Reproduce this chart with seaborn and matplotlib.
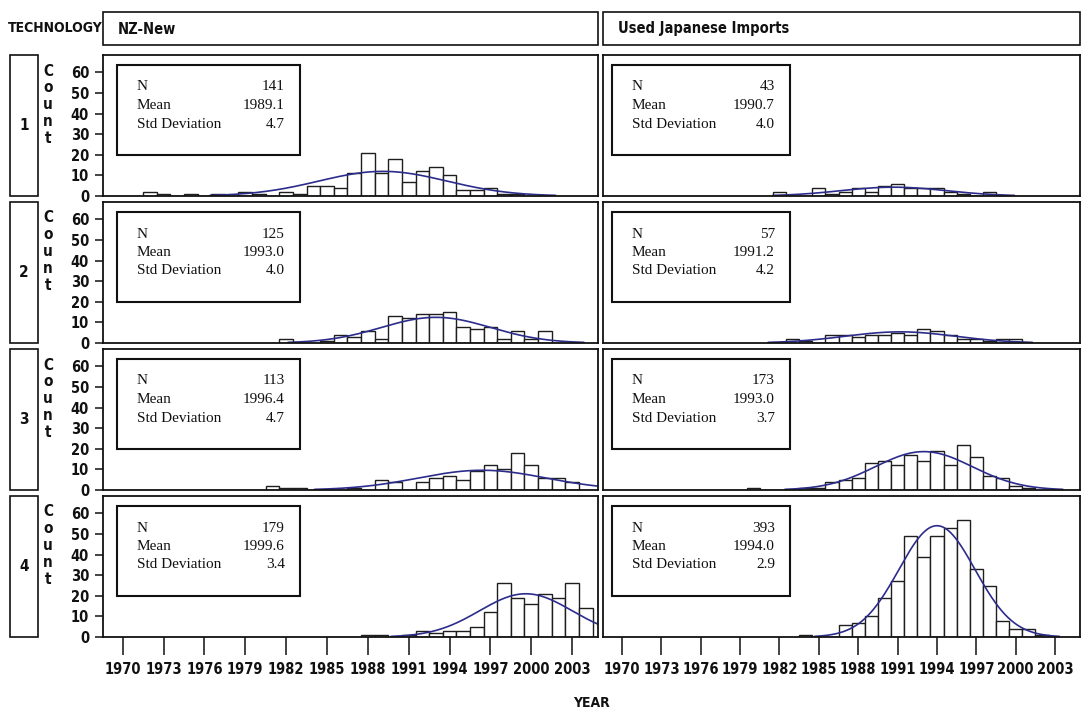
import numpy as np
import matplotlib
matplotlib.use("Agg")
import matplotlib.pyplot as plt
import seaborn as sns
from matplotlib.patches import Rectangle
from matplotlib import font_manager

# ---------------- data ----------------
technology_labels = ["1", "2", "3", "4"]
source_labels = ["NZ-New", "Used Japanese Imports"]
x_tick_years = [1970, 1973, 1976, 1979, 1982, 1985, 1988, 1991, 1994, 1997, 2000, 2003]
y_tick_counts = [0, 10, 20, 30, 40, 50, 60]

t1_nz_years = [1972, 1973, 1974, 1975, 1976, 1977, 1978, 1979, 1980, 1981, 1982, 1983, 1984, 1985,
               1986, 1987, 1988, 1989, 1990, 1991, 1992, 1993, 1994, 1995, 1996, 1997, 1998, 1999]
t1_nz_counts = [2, 1, 0, 1, 0, 1, 0, 2, 1, 0, 2, 1, 5, 5, 4, 11, 21, 11, 18, 7, 12, 14, 10, 3, 3, 4, 1, 1]

t1_jp_years = [1982, 1983, 1984, 1985, 1986, 1987, 1988, 1989, 1990, 1991, 1992, 1993, 1994, 1995,
               1996, 1997, 1998]
t1_jp_counts = [2, 0, 0, 4, 1, 2, 4, 2, 5, 6, 4, 4, 4, 2, 1, 0, 2]

t2_nz_years = [1982, 1983, 1984, 1985, 1986, 1987, 1988, 1989, 1990, 1991, 1992, 1993, 1994, 1995,
               1996, 1997, 1998, 1999, 2000, 2001]
t2_nz_counts = [2, 0, 0, 1, 4, 3, 6, 2, 13, 12, 14, 14, 15, 8, 7, 8, 2, 6, 2, 6]

t2_jp_years = [1983, 1984, 1985, 1986, 1987, 1988, 1989, 1990, 1991, 1992, 1993, 1994, 1995, 1996,
               1997, 1998, 1999, 2000]
t2_jp_counts = [2, 1, 0, 4, 4, 3, 4, 4, 5, 4, 7, 6, 4, 2, 2, 1, 2, 2]

t3_nz_years = [1981, 1982, 1983, 1984, 1985, 1986, 1987, 1988, 1989, 1990, 1991, 1992, 1993, 1994,
               1995, 1996, 1997, 1998, 1999, 2000, 2001, 2002, 2003]
t3_nz_counts = [2, 1, 1, 0, 0, 0, 1, 0, 5, 4, 0, 4, 6, 7, 5, 9, 12, 10, 18, 12, 6, 6, 4]

t3_jp_years = [1980, 1981, 1982, 1983, 1984, 1985, 1986, 1987, 1988, 1989, 1990, 1991, 1992, 1993,
               1994, 1995, 1996, 1997, 1998, 1999, 2000, 2001]
t3_jp_counts = [1, 0, 0, 0, 1, 1, 4, 5, 6, 13, 14, 12, 17, 14, 19, 12, 22, 16, 7, 6, 2, 1]

t4_nz_years = [1988, 1989, 1990, 1991, 1992, 1993, 1994, 1995, 1996, 1997, 1998, 1999, 2000, 2001,
               2002, 2003, 2004]
t4_nz_counts = [1, 1, 0, 1, 3, 2, 3, 3, 5, 12, 26, 19, 16, 21, 19, 26, 14]

t4_jp_years = [1984, 1985, 1986, 1987, 1988, 1989, 1990, 1991, 1992, 1993, 1994, 1995, 1996, 1997,
               1998, 1999, 2000, 2001, 2002]
t4_jp_counts = [1, 0, 0, 6, 7, 10, 19, 27, 49, 39, 49, 53, 57, 33, 25, 8, 4, 4, 1]

n_values = [[141, 43], [125, 57], [113, 173], [179, 393]]
mean_values = [[1989.1, 1990.7], [1993.0, 1991.2], [1996.4, 1993.0], [1999.6, 1994.0]]
sd_values = [[4.7, 4.0], [4.0, 4.2], [4.7, 3.7], [3.4, 2.9]]

panel_years = [[t1_nz_years, t1_jp_years], [t2_nz_years, t2_jp_years],
               [t3_nz_years, t3_jp_years], [t4_nz_years, t4_jp_years]]
panel_counts = [[t1_nz_counts, t1_jp_counts], [t2_nz_counts, t2_jp_counts],
                [t3_nz_counts, t3_jp_counts], [t4_nz_counts, t4_jp_counts]]

# ---------------- style ----------------
sns.set_theme(style="white")
plt.rcParams['font.family'] = ['DejaVu Sans']

_fonts = font_manager.fontManager.ttflist
if any(f.name == 'DejaVu Sans' and 'condensed' in str(f.stretch).lower() for f in _fonts):
    NARROW_KW = dict(family=['DejaVu Sans'], stretch='condensed', weight='bold')
elif any(f.name == 'Liberation Sans Narrow' for f in _fonts):
    NARROW_KW = dict(family=['Liberation Sans Narrow'], weight='bold')
else:
    NARROW_KW = dict(family=['Liberation Sans', 'DejaVu Sans'], weight='bold')
SERIF = ['Liberation Serif', 'DejaVu Serif']
INK = '#111111'
CURVE = '#2c2c8c'

W, H = 1082, 709
fig = plt.figure(figsize=(W / 100, H / 100), dpi=100)
fig.patch.set_facecolor('white')


def fx(px):
    return px / W


def fy(py):
    return 1 - py / H


col_x = [(103, 598), (603, 1080)]
row_y = [(55, 196), (202, 343), (349, 490), (496, 637)]
XLIM = (1968.55, 2004.9)
YLIM = (0, 68.5)


def fig_box(x0, y0, x1, y1, lw=1.2):
    fig.patches.append(Rectangle((fx(x0), fy(y1)), fx(x1) - fx(x0), fy(y0) - fy(y1),
                                 transform=fig.transFigure, fill=False,
                                 edgecolor=INK, linewidth=lw))


# title / headers
fig.text(fx(8), fy(28), "TECHNOLOGY", fontsize=10, ha='left', va='center',
         color=INK, **NARROW_KW)
for c, (x0, x1) in enumerate(col_x):
    fig_box(x0, 12, x1, 45)
    fig.text(fx(x0 + 15), fy(29), source_labels[c], fontsize=10.5, ha='left',
             va='center', color=INK, **NARROW_KW)

for r, (y0, y1) in enumerate(row_y):
    fig_box(10, y0, 38, y1)
    fig.text(fx(24), fy((y0 + y1) / 2), technology_labels[r], fontsize=11,
             ha='center', va='center', color=INK, **NARROW_KW)
    for i, ch in enumerate("Count"):
        fig.text(fx(48), fy(y0 + 16 + i * 16.8), ch, fontsize=11,
                 ha='center', va='center', color=INK, **NARROW_KW)

fig.text(fx(591), fy(703), "YEAR", fontsize=10, ha='center', va='center',
         color=INK, **NARROW_KW)

# ---------------- panels ----------------
for r, (y0, y1) in enumerate(row_y):
    for c, (x0, x1) in enumerate(col_x):
        ax = fig.add_axes([fx(x0), fy(y1), fx(x1) - fx(x0), fy(y0) - fy(y1)])
        ax.set_facecolor('white')
        years = panel_years[r][c]
        counts = panel_counts[r][c]
        sns.histplot(x=years, weights=counts, discrete=True, ax=ax, color='white',
                     edgecolor='#1e1e1e', linewidth=1.0, alpha=1.0, stat='count')
        n, mu, sd = n_values[r][c], mean_values[r][c], sd_values[r][c]
        xs = np.linspace(mu - 4 * sd, mu + 4 * sd, 500)
        ys = n / (sd * np.sqrt(2 * np.pi)) * np.exp(-0.5 * ((xs - mu) / sd) ** 2)
        keep = ys >= 0.3
        sns.lineplot(x=xs[keep], y=ys[keep], ax=ax, color=CURVE, linewidth=1.2,
                     estimator=None, sort=False)
        ax.set_xlim(*XLIM)
        ax.set_ylim(*YLIM)
        ax.set_xlabel("")
        ax.set_ylabel("")
        for s in ax.spines.values():
            s.set_visible(True)
            s.set_color(INK)
            s.set_linewidth(1.3)
        if c == 0:
            ax.set_yticks(y_tick_counts)
            ax.set_yticklabels([str(v) for v in y_tick_counts], fontsize=10.5,
                               color=INK, **NARROW_KW)
            ax.tick_params(axis='y', direction='out', length=6, width=1.1,
                           color=INK, pad=4, left=True)
        else:
            ax.set_yticks([])
        if r == len(row_y) - 1:
            ax.set_xticks(x_tick_years)
            ax.set_xticklabels([str(v) for v in x_tick_years], fontsize=10.5,
                               color=INK, **NARROW_KW)
            ax.tick_params(axis='x', direction='out', length=13, width=1.1,
                           color=INK, pad=5, bottom=True)
        else:
            ax.set_xticks([])

        # statistics box
        aw, ah = x1 - x0, y1 - y0
        bx0 = 14 if c == 0 else 9
        bx1 = 197 if c == 0 else 187
        by0, by1 = 10, 100
        ax.add_patch(Rectangle((bx0 / aw, 1 - by1 / ah), (bx1 - bx0) / aw, (by1 - by0) / ah,
                               transform=ax.transAxes, fill=False, edgecolor=INK,
                               linewidth=1.5, zorder=5))
        labels = ["N", "Mean", "Std Deviation"]
        values = [f"{n}", f"{mu:.1f}", f"{sd:.1f}"]
        for i, (lab, val) in enumerate(zip(labels, values)):
            yy = 1 - (by0 + 22 + i * 18.5) / ah
            ax.text((bx0 + 20) / aw, yy, lab, transform=ax.transAxes, family=SERIF,
                    fontsize=11, ha='left', va='center', color=INK, zorder=6)
            ax.text((bx1 - 15) / aw, yy, val, transform=ax.transAxes, family=SERIF,
                    fontsize=11, ha='right', va='center', color=INK, zorder=6)

fig.savefig("out.png", dpi=100, facecolor='white')
